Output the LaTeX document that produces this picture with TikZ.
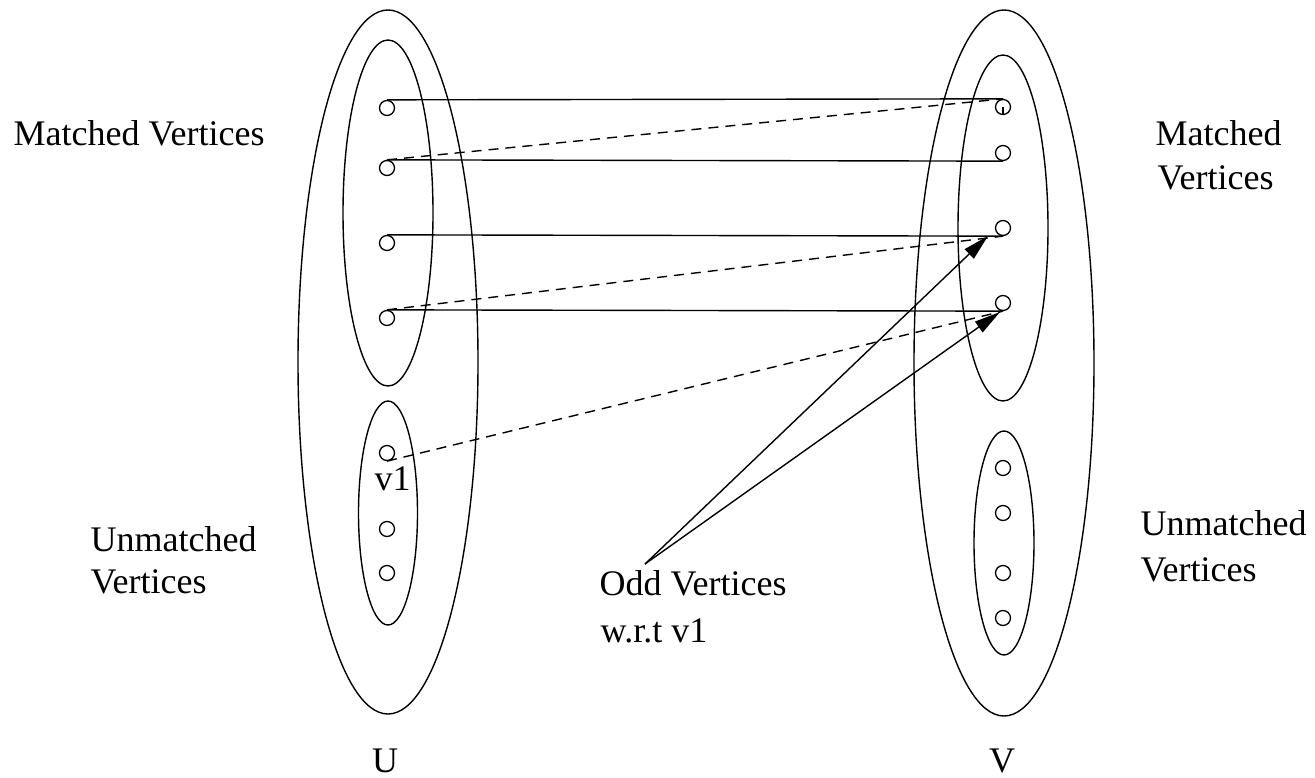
\documentclass[tikz,border=0pt]{standalone}
\usepackage{fontspec}
\setmainfont{Liberation Serif}
\usetikzlibrary{arrows.meta}
\begin{document}
\begin{tikzpicture}[x=1pt,y=-1pt,line width=1.4pt,
  vtx/.style={circle,draw,minimum size=15pt,inner sep=0pt,line width=1.3pt},
  lbl/.style={anchor=base west,inner sep=0pt,font=\fontsize{36}{43}\selectfont},
  lblc/.style={anchor=base,inner sep=0pt,font=\fontsize{36}{43}\selectfont},
  dashline/.style={dash pattern=on 10pt off 7pt},
  arr/.style={-{Triangle[length=26pt,width=13pt]}}]
\useasboundingbox (0,0) rectangle (1315,778);
% ellipses
\draw (388,362) ellipse [x radius=90, y radius=352];
\draw (388,213) ellipse [x radius=45, y radius=173];
\draw (388,513) ellipse [x radius=29.5, y radius=112];
\draw (1004,363) ellipse [x radius=90, y radius=353];
\draw (1003,228) ellipse [x radius=45, y radius=173];
\draw (1004,543) ellipse [x radius=30, y radius=112];
% left vertices
\node[vtx] (l1) at (387,108) {};
\node[vtx] (l2) at (387,168) {};
\node[vtx] (l3) at (387,243) {};
\node[vtx] (l4) at (387,318) {};
\node[vtx] (v1) at (387,453) {};
\node[vtx] (u2) at (387,529) {};
\node[vtx] (u3) at (387,573) {};
% right vertices
\node[vtx] (r1) at (1003,107) {};
\node[vtx] (r2) at (1003,153) {};
\node[vtx] (r3) at (1003,228) {};
\node[vtx] (r4) at (1003,303) {};
\node[vtx] (w1) at (1003,468) {};
\node[vtx] (w2) at (1003,513) {};
\node[vtx] (w3) at (1003,573) {};
\node[vtx] (w4) at (1003,618) {};
% matching edges
\draw (l1.north) -- (r1.north);
\draw (l2.north) -- (r2.south);
\draw (l3.north) -- (r3.south);
\draw (l4.north) -- (r4.south);
\draw[line width=1.2pt] (r1.center) -- (r1.south);
% non-matching edges
\draw[dashline] (l2.north) -- (r1.north);
\draw[dashline] (l4.north) -- (r3.south);
\draw[dashline] (v1.south) -- (r4.south);
% arrows
\coordinate (odd) at (645,564);
\coordinate (t1) at (988,236);
\coordinate (t2) at (1000,312);
\draw[arr] (odd) -- (t1);
\draw[arr] (odd) -- (t2);
% labels
\node[lbl] (mvl) at (13,146) {Matched Vertices};
\node[lbl] (mr1) at (1155,146) {Matched};
\node[lbl] (mr2) at (1157,190) {Vertices};
\node[lbl] (ul1) at (90,551) {Unmatched};
\node[lbl] (ul2) at (90,593) {Vertices};
\node[lbl] (ur1) at (1140,535) {Unmatched};
\node[lbl] (ur2) at (1140,581) {Vertices};
\node[lbl] (v1l) at (374,490) {v1};
\node[lbl] (od1) at (599,595) {Odd Vertices};
\node[lbl] (od2) at (600,642) {w.r.t v1};
\node[lblc] (U) at (385,772) {U};
\node[lblc] (V) at (1002,772) {V};
\end{tikzpicture}
\end{document}
